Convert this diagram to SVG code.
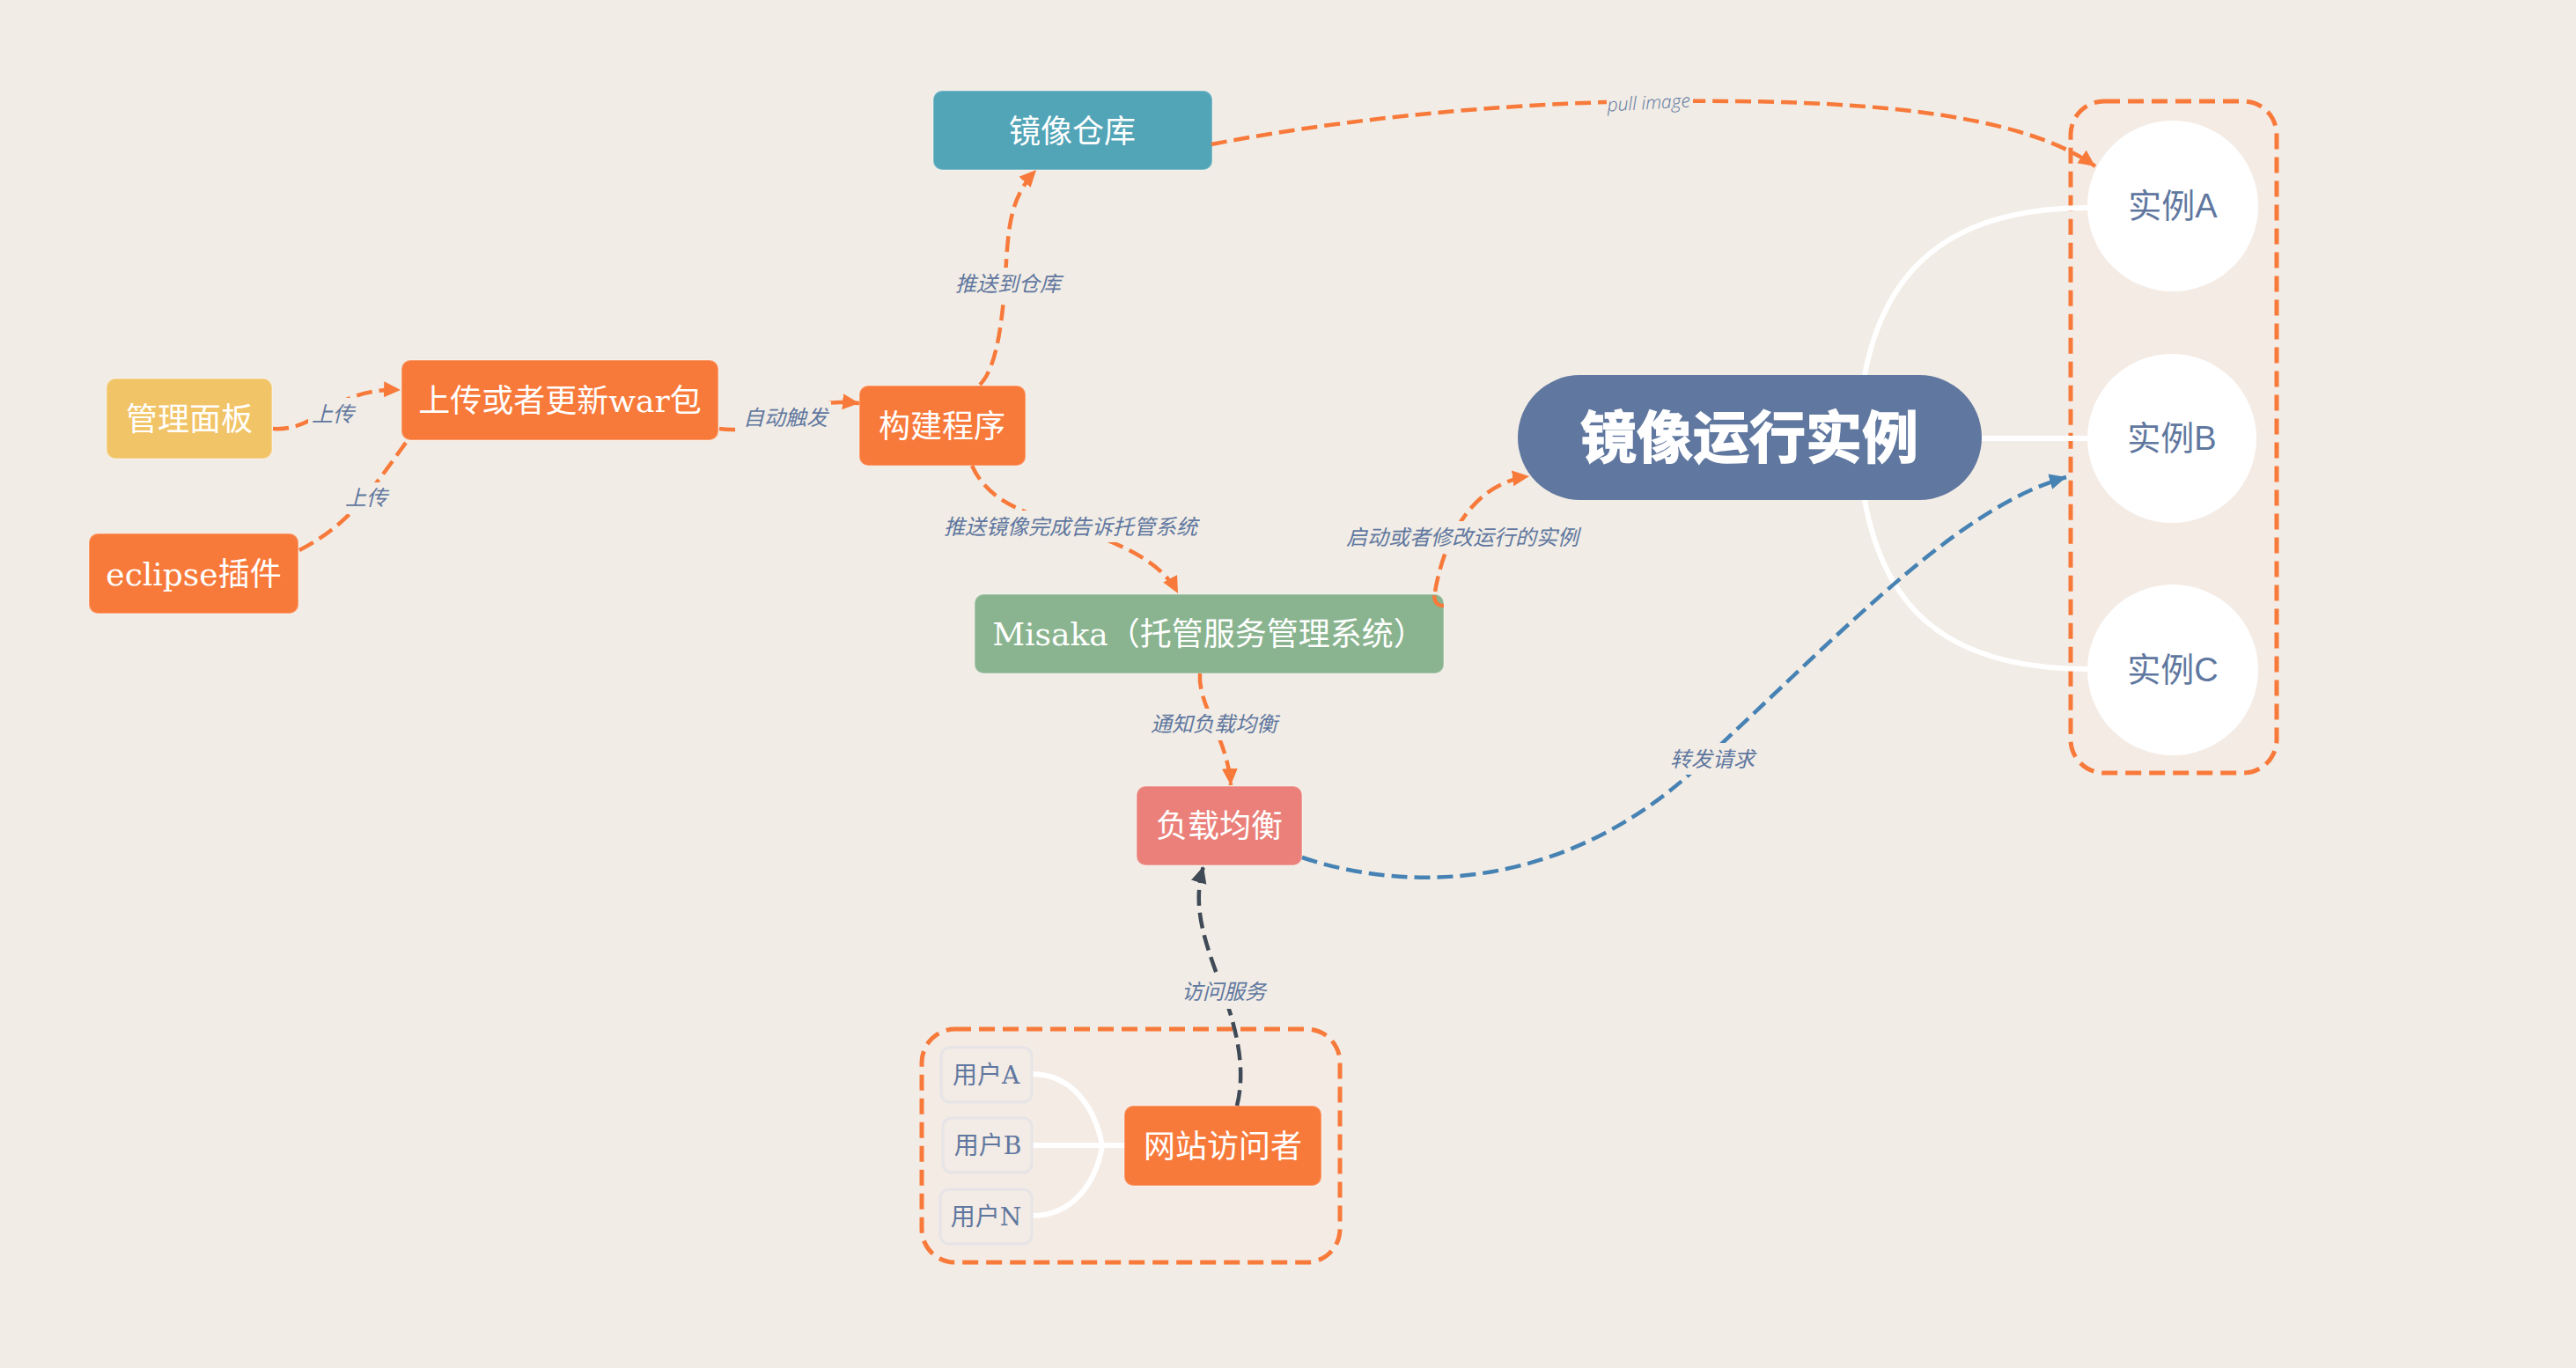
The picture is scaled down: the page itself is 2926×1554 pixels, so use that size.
<svg xmlns="http://www.w3.org/2000/svg" width="2926" height="1554" viewBox="0 0 2926 1554">
<defs>
<style>
.n{font-family:"Noto Sans CJK SC","Noto Sans",sans-serif;font-size:36px;fill:#fff;text-anchor:middle}
.s{font-family:"DejaVu Serif","Noto Sans CJK SC",serif}
.b{font-family:"Noto Sans CJK SC",sans-serif;font-size:64px;font-weight:700;fill:#fff;stroke:#fff;stroke-width:1.5;text-anchor:middle}
.i{font-family:"Liberation Sans","Noto Sans CJK SC",sans-serif;font-size:38px;fill:#60779f;text-anchor:middle}
.u{font-family:"DejaVu Serif","Noto Sans CJK SC",serif;font-size:28px;fill:#60779f;text-anchor:middle}
.l{font-family:"Noto Sans CJK SC",sans-serif;font-size:24px;font-style:italic;fill:#60779f;text-anchor:middle}
.d{fill:none;stroke:#f87a3b;stroke-width:4.5;stroke-dasharray:18 8}
.w{fill:none;stroke:#fff;stroke-width:6}
.c{fill:none;stroke-width:4.5;stroke-dasharray:18 8}
.r{stroke:#fff;stroke-opacity:.25;stroke-width:2}
.ub{fill:#f3ebe5;stroke:#e6e4e6;stroke-width:3}
.box{fill:#f4ebe5;stroke:#f87a3b;stroke-width:5;stroke-dasharray:18 9}
.bg{fill:#f1ece5}
</style>
<marker id="ao" markerUnits="userSpaceOnUse" markerWidth="22" markerHeight="22" refX="19" refY="9" orient="auto"><path d="M0,0L19,9L0,18Z" fill="#f87a3b"/></marker>
<marker id="ab" markerUnits="userSpaceOnUse" markerWidth="22" markerHeight="22" refX="19" refY="9" orient="auto"><path d="M0,0L19,9L0,18Z" fill="#4682b4"/></marker>
<marker id="ak" markerUnits="userSpaceOnUse" markerWidth="22" markerHeight="22" refX="19" refY="9" orient="auto"><path d="M0,0L19,9L0,18Z" fill="#3f4a56"/></marker>
</defs>
<rect class="bg" width="2926" height="1554"/>
<rect id="boundary-instances" class="box" x="2352" y="115" width="234" height="763" rx="38"/>
<rect id="boundary-users" class="box" x="1047" y="1169" width="475" height="265" rx="38"/>
<g id="tree-lines">
<path class="w" d="M2118,426C2140,310 2210,236 2372,236"/>
<path class="w" d="M2118,568C2140,690 2210,760 2372,760"/>
<path class="w" d="M2251,498H2372"/>
<path class="w" d="M1172,1220C1220,1220 1245,1262 1252,1302"/>
<path class="w" d="M1172,1381C1220,1381 1245,1342 1252,1302"/>
<path class="w" d="M1172,1301H1277"/>
</g>
<g id="n-registry"><rect class="r" x="1060" y="103" width="317" height="90" rx="10" fill="#52a4b7"/><text class="n" x="1218" y="162">镜像仓库</text></g>
<g id="n-panel"><rect class="r" x="121" y="430" width="188" height="91" rx="10" fill="#f2c468"/><text class="n" x="215" y="489">管理面板</text></g>
<g id="n-upload"><rect class="r" x="456" y="409" width="360" height="91" rx="10" fill="#f87a3b"/><text class="n s" x="636" y="468">上传或者更新war包</text></g>
<g id="n-eclipse"><rect class="r" x="101" y="606" width="238" height="91" rx="10" fill="#f87a3b"/><text class="n s" x="220" y="665">eclipse插件</text></g>
<g id="n-build"><rect class="r" x="976" y="438" width="189" height="91" rx="10" fill="#f87a3b"/><text class="n" x="1070" y="497">构建程序</text></g>
<g id="n-misaka"><rect class="r" x="1107" y="675" width="533" height="90" rx="10" fill="#8ab48f"/><text class="n s" x="1373" y="733">Misaka（托管服务管理系统）</text></g>
<g id="n-lb"><rect class="r" x="1291" y="893" width="188" height="90" rx="10" fill="#ea8079"/><text class="n" x="1385" y="951">负载均衡</text></g>
<g id="n-visitor"><rect class="r" x="1277" y="1256" width="224" height="91" rx="10" fill="#f87a3b"/><text class="n" x="1389" y="1315">网站访问者</text></g>
<g id="n-run"><rect x="1724" y="426" width="527" height="142" rx="71" fill="#60779f"/><text class="b" x="1987" y="520">镜像运行实例</text></g>
<g id="n-a"><circle cx="2468" cy="234" r="97" fill="#fff"/><text class="i" x="2468" y="247">实例A</text></g>
<g id="n-b"><circle cx="2467" cy="498" r="96" fill="#fff"/><text class="i" x="2467" y="511">实例B</text></g>
<g id="n-c"><circle cx="2468" cy="761" r="97" fill="#fff"/><text class="i" x="2468" y="774">实例C</text></g>
<g id="n-ua"><rect class="ub" x="1069" y="1190" width="103" height="62" rx="10"/><text class="u" x="1120" y="1231">用户A</text></g>
<g id="n-ub"><rect class="ub" x="1071" y="1270" width="101" height="62" rx="10"/><text class="u" x="1122" y="1311">用户B</text></g>
<g id="n-un"><rect class="ub" x="1068" y="1351" width="104" height="62" rx="10"/><text class="u" x="1120" y="1392">用户N</text></g>
<g id="connectors">
<path class="d" marker-end="url(#ao)" d="M310,487C365,490 375,440 455,443"/>
<path class="d" d="M340,625C395,597 420,560 463,500"/>
<path class="d" marker-end="url(#ao)" d="M817,487C880,495 890,450 976,458"/>
<path class="d" marker-end="url(#ao)" d="M1113,437C1135,415 1140,350 1143,297C1146,250 1150,222 1177,193"/>
<path class="d" marker-end="url(#ao)" d="M1376,164C1550,130 1750,115 1895,115C2100,113 2290,125 2380,189"/>
<path class="d" marker-end="url(#ao)" d="M1104,529C1125,575 1175,585 1220,600C1280,620 1320,640 1338,674"/>
<path class="d" stroke-dasharray="none" d="M1640,688C1630,688 1628,680 1630,672"/>
<path class="d" marker-end="url(#ao)" d="M1630,672C1638,625 1665,550 1737,541"/>
<path class="d" marker-end="url(#ao)" d="M1363,765C1360,800 1395,840 1398,892"/>
<path class="c" stroke="#4682b4" marker-end="url(#ab)" d="M1479,974C1600,1015 1790,1015 1950,850C2110,700 2230,575 2347,542"/>
<path class="c" stroke="#3f4a56" marker-end="url(#ak)" d="M1405,1256C1418,1205 1398,1150 1383,1109C1365,1060 1355,1025 1367,984"/>
<g id="connector-labels">
<rect class="bg" x="350" y="452" width="56" height="36"/><text class="l" x="378" y="479">上传</text>
<rect class="bg" x="388" y="548" width="56" height="36"/><text class="l" x="416" y="574">上传</text>
<rect class="bg" x="840" y="456" width="104" height="36"/><text class="l" x="892" y="483">自动触发</text>
<rect class="bg" x="1082" y="304" width="126" height="36"/><text class="l" x="1145" y="331">推送到仓库</text>
<rect class="bg" x="1825" y="100" width="98" height="36"/><text x="1873" y="124" transform="rotate(-3 1873 124)" font-family="Open Sans,sans-serif" font-weight="300" font-size="21" font-style="italic" fill="#60779f" text-anchor="middle">pull image</text>
<rect class="bg" x="1070" y="580" width="292" height="36"/><text class="l" x="1216" y="607">推送镜像完成告诉托管系统</text>
<rect class="bg" x="1526" y="592" width="270" height="36"/><text class="l" x="1661" y="619">启动或者修改运行的实例</text>
<rect class="bg" x="1305" y="805" width="148" height="36"/><text class="l" x="1379" y="831">通知负载均衡</text>
<rect class="bg" x="1895" y="844" width="100" height="36"/><text class="l" x="1945" y="871">转发请求</text>
<rect class="bg" x="1340" y="1108" width="100" height="38"/><text class="l" x="1390" y="1135">访问服务</text>
</g>
</g>
</svg>
